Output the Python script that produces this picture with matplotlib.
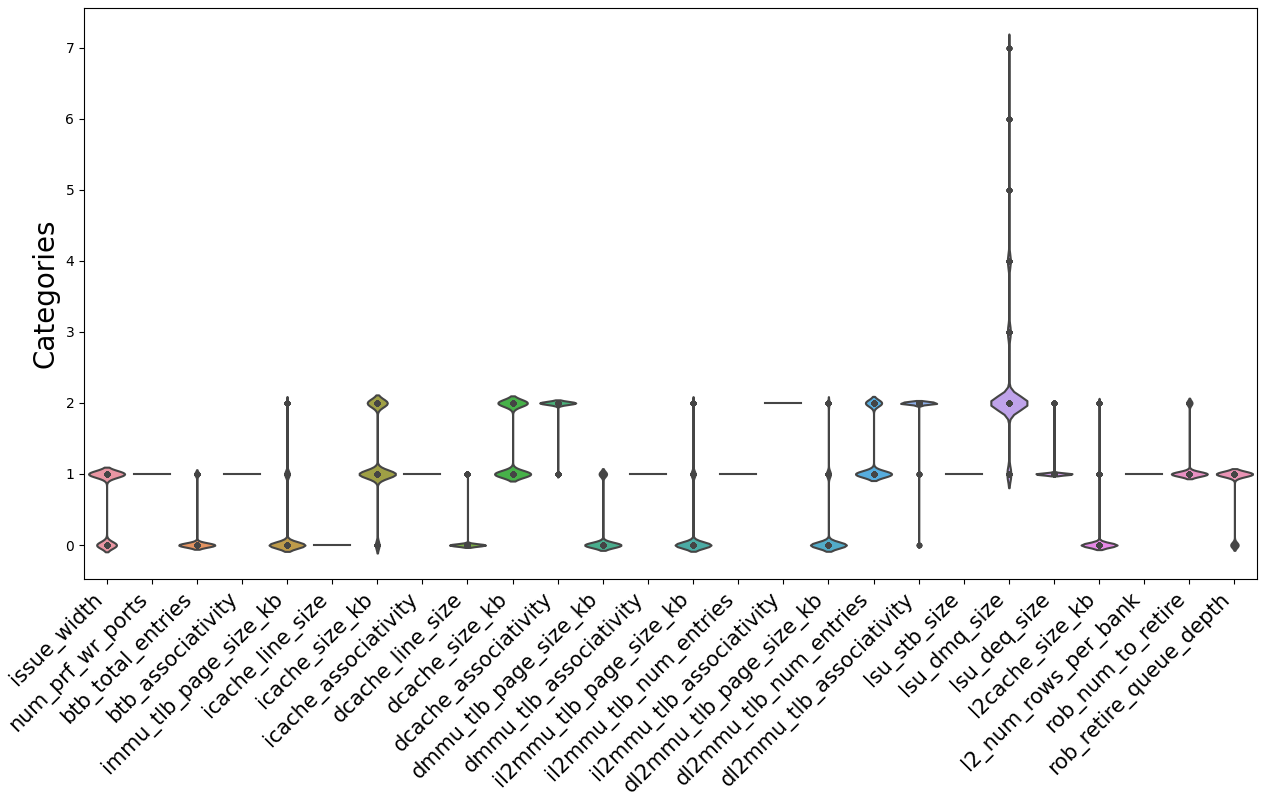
import numpy as np
import pandas as pd
import matplotlib
matplotlib.use("Agg")
import matplotlib.pyplot as plt
import seaborn as sns

names = ["issue_width", "num_prf_wr_ports", "btb_total_entries", "btb_associativity",
         "immu_tlb_page_size_kb", "icache_line_size", "icache_size_kb",
         "icache_associativity", "dcache_line_size", "dcache_size_kb",
         "dcache_associativity", "dmmu_tlb_page_size_kb", "dmmu_tlb_associativity",
         "il2mmu_tlb_page_size_kb", "il2mmu_tlb_num_entries", "il2mmu_tlb_associativity",
         "dl2mmu_tlb_page_size_kb", "dl2mmu_tlb_num_entries", "dl2mmu_tlb_associativity",
         "lsu_stb_size", "lsu_dmq_size", "lsu_deq_size", "l2cache_size_kb",
         "l2_num_rows_per_bank", "rob_num_to_retire", "rob_retire_queue_depth"]

levels = [0, 1, 2, 3, 4, 5, 6, 7]

# samples (per 1000) at each level 0..7, one row per parameter
counts = [
    [355, 645, 0, 0, 0, 0, 0, 0],      # issue_width
    [0, 1000, 0, 0, 0, 0, 0, 0],       # num_prf_wr_ports
    [900, 100, 0, 0, 0, 0, 0, 0],      # btb_total_entries
    [0, 1000, 0, 0, 0, 0, 0, 0],       # btb_associativity
    [860, 110, 30, 0, 0, 0, 0, 0],     # immu_tlb_page_size_kb
    [1000, 0, 0, 0, 0, 0, 0, 0],       # icache_line_size
    [61, 606, 333, 0, 0, 0, 0, 0],     # icache_size_kb
    [0, 1000, 0, 0, 0, 0, 0, 0],       # icache_associativity
    [970, 30, 0, 0, 0, 0, 0, 0],       # dcache_line_size
    [0, 550, 450, 0, 0, 0, 0, 0],      # dcache_size_kb
    [0, 50, 950, 0, 0, 0, 0, 0],       # dcache_associativity
    [830, 170, 0, 0, 0, 0, 0, 0],      # dmmu_tlb_page_size_kb
    [0, 1000, 0, 0, 0, 0, 0, 0],       # dmmu_tlb_associativity
    [870, 100, 30, 0, 0, 0, 0, 0],     # il2mmu_tlb_page_size_kb
    [0, 1000, 0, 0, 0, 0, 0, 0],       # il2mmu_tlb_num_entries
    [0, 0, 1000, 0, 0, 0, 0, 0],       # il2mmu_tlb_associativity
    [870, 100, 30, 0, 0, 0, 0, 0],     # dl2mmu_tlb_page_size_kb
    [0, 690, 310, 0, 0, 0, 0, 0],      # dl2mmu_tlb_num_entries
    [5, 10, 985, 0, 0, 0, 0, 0],       # dl2mmu_tlb_associativity
    [0, 1000, 0, 0, 0, 0, 0, 0],       # lsu_stb_size
    [0, 80, 760, 60, 60, 15, 15, 10],  # lsu_dmq_size
    [0, 980, 20, 0, 0, 0, 0, 0],       # lsu_deq_size
    [950, 30, 20, 0, 0, 0, 0, 0],      # l2cache_size_kb
    [0, 1000, 0, 0, 0, 0, 0, 0],       # l2_num_rows_per_bank
    [0, 870, 130, 0, 0, 0, 0, 0],      # rob_num_to_retire
    [170, 830, 0, 0, 0, 0, 0, 0],      # rob_retire_queue_depth
]

rows = []
for name, c in zip(names, counts):
    for v in np.repeat(levels, c):
        rows.append((name, float(v)))
df = pd.DataFrame(rows, columns=["param", "value"])

palette = sns.husl_palette(len(names), l=.7)
desat = sns.color_palette(palette, desat=.75)
lum = min((max(c) + min(c)) / 2 for c in desat) * .6
gray = matplotlib.colors.rgb2hex((lum, lum, lum))

fig = plt.figure(figsize=(12.61, 7.96), dpi=100)
ax = fig.add_axes([84 / 1261, 1 - 579 / 796, (1257 - 84) / 1261, (579 - 8) / 796])

sns.violinplot(data=df, x="param", y="value", hue="param", order=names,
               hue_order=names, palette=palette, legend=False,
               inner="point", density_norm="width", bw_method=0.1,
               linewidth=1.5, linecolor=gray, inner_kws=dict(s=9), ax=ax)

ax.set_xlabel("")
ax.set_ylabel("Categories", fontsize=20)
plt.xticks(rotation=45, ha="right", fontsize=15)

fig.savefig("out.png", dpi=100)
